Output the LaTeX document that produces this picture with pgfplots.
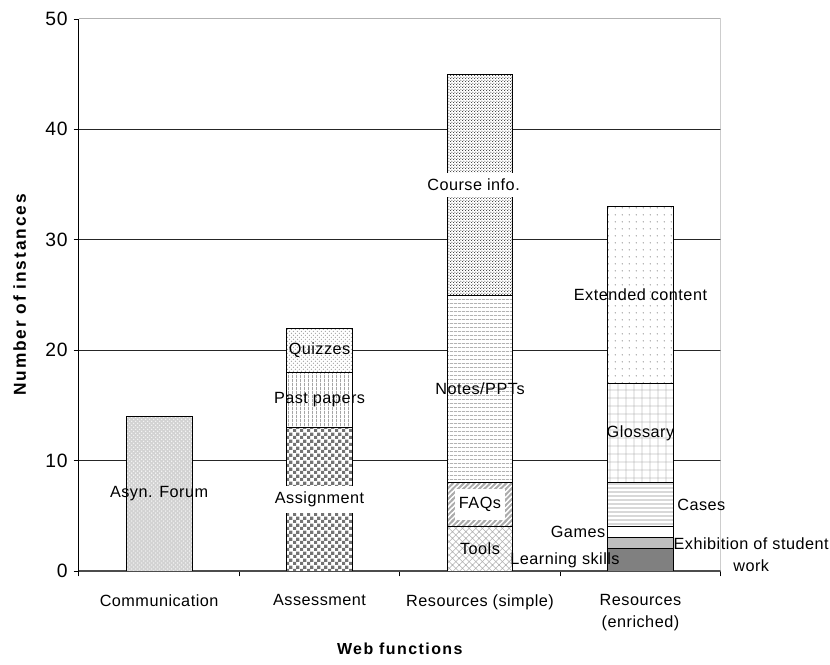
\documentclass[border=0pt]{standalone}
\usepackage{fontspec}
\setmainfont{Liberation Sans}[LetterSpace=3]
\newfontfamily\ylabelfamily{Liberation Sans}[LetterSpace=11]
\newfontfamily\xlabelfamily{Liberation Sans}[LetterSpace=9]
\usepackage{pgfplots}
\pgfplotsset{compat=1.18}
\usepackage{pgfplotstable}
\usetikzlibrary{patterns}

% fill patterns for the bar segments
\pgfdeclarepatternformonly{chk}{\pgfpointorigin}{\pgfqpoint{5pt}{5pt}}{\pgfqpoint{5pt}{5pt}}{%
  \pgfpathrectangle{\pgfpointorigin}{\pgfqpoint{2.5pt}{2.5pt}}%
  \pgfpathrectangle{\pgfqpoint{2.5pt}{2.5pt}}{\pgfqpoint{2.5pt}{2.5pt}}%
  \pgfusepath{fill}}
\pgfdeclarepatternformonly{vlines}{\pgfpointorigin}{\pgfqpoint{2.6pt}{2.6pt}}{\pgfqpoint{2.6pt}{2.6pt}}{%
  \pgfsetlinewidth{0.5pt}%
  \pgfpathmoveto{\pgfqpoint{1.3pt}{0pt}}\pgfpathlineto{\pgfqpoint{1.3pt}{2.6pt}}%
  \pgfusepath{stroke}}
\pgfdeclarepatternformonly{hlines}{\pgfpointorigin}{\pgfqpoint{2.6pt}{2.6pt}}{\pgfqpoint{2.6pt}{2.6pt}}{%
  \pgfsetlinewidth{0.45pt}%
  \pgfpathmoveto{\pgfqpoint{0pt}{1.3pt}}\pgfpathlineto{\pgfqpoint{2.6pt}{1.3pt}}%
  \pgfusepath{stroke}}
\pgfdeclarepatternformonly{hlineswide}{\pgfpointorigin}{\pgfqpoint{3pt}{3pt}}{\pgfqpoint{3pt}{3pt}}{%
  \pgfsetlinewidth{0.6pt}%
  \pgfpathmoveto{\pgfqpoint{0pt}{1.5pt}}\pgfpathlineto{\pgfqpoint{3pt}{1.5pt}}%
  \pgfusepath{stroke}}
\pgfdeclarepatternformonly{squaregrid}{\pgfpointorigin}{\pgfqpoint{6pt}{6pt}}{\pgfqpoint{6pt}{6pt}}{%
  \pgfsetlinewidth{0.5pt}%
  \pgfpathmoveto{\pgfqpoint{3pt}{0pt}}\pgfpathlineto{\pgfqpoint{3pt}{6pt}}%
  \pgfpathmoveto{\pgfqpoint{0pt}{3pt}}\pgfpathlineto{\pgfqpoint{6pt}{3pt}}%
  \pgfusepath{stroke}}
\pgfdeclarepatternformonly{diagcross}{\pgfqpoint{-0.5pt}{-0.5pt}}{\pgfqpoint{5.5pt}{5.5pt}}{\pgfqpoint{5pt}{5pt}}{%
  \pgfsetlinewidth{0.4pt}%
  \pgfpathmoveto{\pgfqpoint{-0.5pt}{-0.5pt}}\pgfpathlineto{\pgfqpoint{5.5pt}{5.5pt}}%
  \pgfpathmoveto{\pgfqpoint{-0.5pt}{5.5pt}}\pgfpathlineto{\pgfqpoint{5.5pt}{-0.5pt}}%
  \pgfusepath{stroke}}
\pgfdeclarepatternformonly{widediag}{\pgfqpoint{-1pt}{-1pt}}{\pgfqpoint{5pt}{5pt}}{\pgfqpoint{4pt}{4pt}}{%
  \pgfsetlinewidth{1.4pt}%
  \pgfpathmoveto{\pgfqpoint{-1pt}{-1pt}}\pgfpathlineto{\pgfqpoint{5pt}{5pt}}%
  \pgfusepath{stroke}}
\pgfdeclarepatternformonly{sparsedots}{\pgfpointorigin}{\pgfqpoint{5pt}{5pt}}{\pgfqpoint{5pt}{5pt}}{%
  \pgfpathcircle{\pgfqpoint{2.5pt}{2.5pt}}{0.4pt}%
  \pgfusepath{fill}}
\pgfdeclarepatternformonly{finedots}{\pgfpointorigin}{\pgfqpoint{2pt}{2pt}}{\pgfqpoint{2pt}{2pt}}{%
  \pgfpathcircle{\pgfqpoint{0.5pt}{0.5pt}}{0.42pt}%
  \pgfpathcircle{\pgfqpoint{1.5pt}{1.5pt}}{0.42pt}%
  \pgfusepath{fill}}

% number of instances per web function (one column per segment)
\pgfplotstableread{
x forum assign past quiz tools faqs notes course learn exhib games cases gloss ext
0 14 0  0 0 0 0 0  0  0 0 0 0 0 0
1 0  13 5 4 0 0 0  0  0 0 0 0 0 0
2 0  0  0 0 4 4 17 20 0 0 0 0 0 0
3 0  0  0 0 0 0 0  0  2 1 1 4 9 16
}\webdata

\newcommand\lblfont{\fontsize{12.2}{16.5}\selectfont}

\begin{document}
\begin{tikzpicture}
\begin{axis}[
  scale only axis,
  width=482.25pt, height=414.75pt,
  ybar stacked, bar width=0.41,
  xmin=-0.5, xmax=3.5, ymin=0, ymax=50,
  axis x line*=bottom, axis y line*=left,
  x axis line style={black!70, line width=1.1pt},
  y axis line style={black, line width=0.8pt},
  xtick={0,1,2,3},
  xticklabels={Communication, Assessment, Resources (simple), {Resources\\(enriched)}},
  major x tick style={draw=none},
  minor xtick={-0.5,0.5,1.5,2.5,3.5},
  minor x tick style={black, line width=0.6pt},
  minor tick length=4pt,
  ytick={0,10,20,30,40},
  extra y ticks={50},
  extra y tick style={grid=none},
  major tick length=4pt,
  tick align=outside,
  ytick style={black, line width=0.6pt},
  ymajorgrids,
  grid style={black!85, line width=0.7pt},
  /pgf/number format/assume math mode=true,
  xticklabel style={font=\lblfont, align=center, yshift=-10pt},
  yticklabel style={font=\fontsize{14.5}{16}\selectfont, xshift=-1pt},
  xlabel={Web functions},
  ylabel={Number of instances},
  xlabel style={font=\xlabelfamily\bfseries\fontsize{12}{14}\selectfont,
    at={(axis description cs:0.5,-0.141)}, anchor=center},
  ylabel style={font=\ylabelfamily\bfseries\fontsize{13}{15}\selectfont,
    at={(axis description cs:-0.092,0.5)}, anchor=center},
  every axis plot/.append style={draw=black, line width=0.6pt},
]
\addplot[fill=gray!35, postaction={pattern=crosshatch dots, pattern color=white}] table[x=x, y=forum] {\webdata};
\addplot[fill=white, postaction={pattern=chk, pattern color=black!55}] table[x=x, y=assign] {\webdata};
\addplot[fill=white, postaction={pattern=vlines, pattern color=gray!70}] table[x=x, y=past] {\webdata};
\addplot[fill=white, postaction={pattern=crosshatch dots, pattern color=gray!70}] table[x=x, y=quiz] {\webdata};
\addplot[fill=white, postaction={pattern=diagcross, pattern color=gray!60}] table[x=x, y=tools] {\webdata};
\addplot[fill=white, postaction={pattern=widediag, pattern color=gray!65}] table[x=x, y=faqs] {\webdata};
\addplot[fill=white, postaction={pattern=hlines, pattern color=gray!60}] table[x=x, y=notes] {\webdata};
\addplot[fill=white, postaction={pattern=finedots, pattern color=black!85}] table[x=x, y=course] {\webdata};
\addplot[fill=black!50] table[x=x, y=learn] {\webdata};
\addplot[fill=black!25] table[x=x, y=exhib] {\webdata};
\addplot[fill=white] table[x=x, y=games] {\webdata};
\addplot[fill=white, postaction={pattern=hlineswide, pattern color=gray!85}] table[x=x, y=cases] {\webdata};
\addplot[fill=white, postaction={pattern=squaregrid, pattern color=gray!45}] table[x=x, y=gloss] {\webdata};
\addplot[fill=white, postaction={pattern=sparsedots, pattern color=black!80}] table[x=x, y=ext] {\webdata};

% plot-area border on top and right
\draw[gray!60, line width=0.8pt] (rel axis cs:0,1) -- (rel axis cs:1,1) -- (rel axis cs:1,0);

% anchor points of the segment labels (segment centres)
\coordinate (lForum)  at (axis cs:0,7);
\coordinate (lAssign) at (axis cs:1,6.5);
\coordinate (lPast)   at (axis cs:1,15.5);
\coordinate (lQuiz)   at (axis cs:1,20);
\coordinate (lTools)  at (axis cs:2,2);
\coordinate (lFaqs)   at (axis cs:2,6);
\coordinate (lNotes)  at (axis cs:2,16.5);
\coordinate (lCourse) at (axis cs:1.96,35);
\coordinate (lLearn)  at (axis cs:2.53,1);
\coordinate (lGames)  at (axis cs:2.79,3.5);
\coordinate (lExhib)  at (axis cs:3.69,1.5);
\coordinate (lCases)  at (axis cs:3.22,6);
\coordinate (lGloss)  at (axis cs:3,12.5);
\coordinate (lExt)    at (axis cs:3,25);
\coordinate (ll) at (rel axis cs:0,0);
\end{axis}

% segment labels, set above the bars
\begin{scope}[every node/.style={font=\lblfont, inner sep=1pt}]
\node at (lForum) {Asyn. Forum};
\node[fill=white, inner xsep=2pt, inner ysep=4.5pt] at (lAssign) {Assignment};
\node at (lPast) {Past papers};
\node at (lQuiz) {Quizzes};
\node at (lTools) {Tools};
\node[fill=white, minimum width=37pt, minimum height=23pt] at (lFaqs) {FAQs};
\node at (lNotes) {Notes/PPTs};
\node[fill=white, inner xsep=2pt, inner ysep=4.5pt] at (lCourse) {Course info.};
\node at (lLearn) {Learning skills};
\node[anchor=east] at (lGames) {Games};
\node[align=center] at (lExhib) {Exhibition of student\\work};
\node[anchor=west] at (lCases) {Cases};
\node at (lGloss) {Glossary};
\node at (lExt) {Extended content};
\end{scope}

\path (ll) ++(-59.25pt,-70.5pt) rectangle ++(622.5pt,499.5pt);
\end{tikzpicture}
\end{document}
